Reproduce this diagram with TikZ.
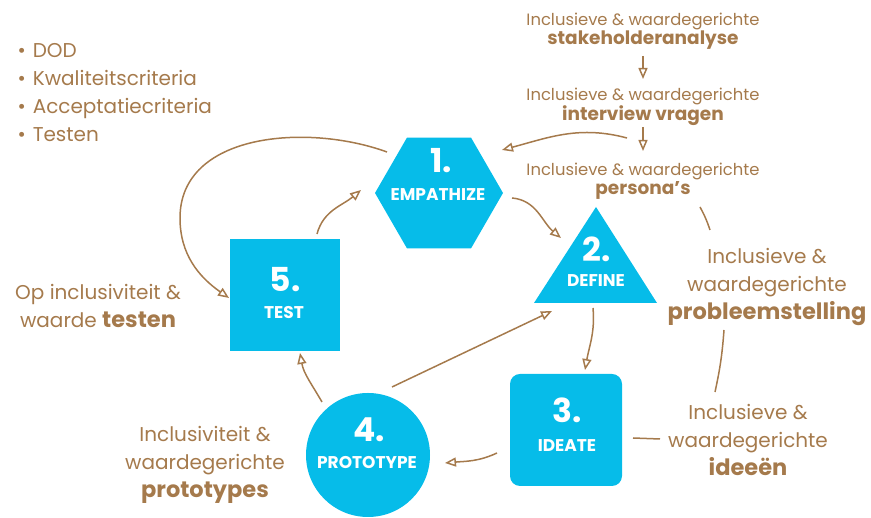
\documentclass[tikz,border=0pt]{standalone}
\usepackage{fontspec}
\setmainfont{Poppins}
\usetikzlibrary{arrows.meta,calc,shapes.geometric}
\definecolor{tileblue}{HTML}{06BCE9}
\definecolor{notebrown}{HTML}{A57A4C}
\newcommand{\keyword}[1]{\textbf{\fontsize{22.5}{28}\selectfont #1}}
\newcommand{\smallkeyword}[1]{\textbf{\fontsize{18.5}{18.5}\selectfont #1}}

\begin{document}
\begin{tikzpicture}[x=1pt,y=1pt,
  tile/.style={fill=tileblue,draw=none,inner sep=0pt},
  num/.style={text=white,anchor=base,font=\bfseries\fontsize{33}{33}\selectfont},
  phase/.style={text=white,anchor=base,font=\bfseries\fontsize{17}{17}\selectfont},
  note/.style={text=notebrown,align=center,font=\fontsize{20}{28}\selectfont},
  smallnote/.style={text=notebrown,align=center,font=\fontsize{16.4}{18.5}\selectfont},
  flow/.style={draw=notebrown,line width=1.5pt,-{Triangle[open,length=11pt,width=9pt]}},
  link/.style={draw=notebrown,line width=1.5pt}]
\useasboundingbox (0,0) rectangle (871,518);

% the five phases
\node[tile,regular polygon,regular polygon sides=6,minimum size=128pt] (emp) at (439,325) {};
\coordinate (def) at (596,248);
\fill[tileblue] ($(def)+(0,63)$) -- ($(def)+(-62,-33)$) -- ($(def)+(61,-33)$) -- cycle;
\node[tile,minimum width=110pt,minimum height=112pt] (tst) at (285,223) {};
\node[tile,rounded corners=10pt,minimum size=112pt] (ide) at (566,88) {};
\node[tile,circle,minimum size=124pt] (pro) at (368,63) {};

\node[num] (emp1) at ($(emp)+(2,20)$) {1.};
\node[phase] (emp2) at ($(emp)+(-1,-8)$) {EMPATHIZE};
\node[num] (def1) at ($(def)+(1,8)$) {2.};
\node[phase] (def2) at ($(def)+(0,-17)$) {DEFINE};
\node[num] (tst1) at ($(tst)+(0,3)$) {5.};
\node[phase] (tst2) at ($(tst)+(-1,-24)$) {TEST};
\node[num] (ide1) at ($(ide)+(1,7)$) {3.};
\node[phase] (ide2) at ($(ide)+(1,-22)$) {IDEATE};
\node[num] (pro1) at ($(pro)+(1,13)$) {4.};
\node[phase] (pro2) at ($(pro)+(-1,-14)$) {PROTOTYPE};

% notes
\node[note,align=left,anchor=north west] (crit) at (14,478)
  {\textbullet\hspace{7pt}DOD\\ \textbullet\hspace{7pt}Kwaliteitscriteria\\ \textbullet\hspace{7pt}Acceptatiecriteria\\ \textbullet\hspace{7pt}Testen};
\node[smallnote] (stake) at (643,487) {Inclusieve \& waardegerichte\\ \smallkeyword{stakeholderanalyse}};
\node[smallnote] (intv) at (643,411) {Inclusieve \& waardegerichte\\ \smallkeyword{interview vragen}};
\node[smallnote] (pers) at (643,337) {Inclusieve \& waardegerichte\\ \smallkeyword{persona’s}};
\node[note] (prob) at (767,231) {Inclusieve \&\\ waardegerichte\\ \keyword{probleemstelling}};
\node[note] (idee) at (748,78) {Inclusieve \&\\ waardegerichte\\ \keyword{ideeën}};
\node[note] (prot) at (205,53) {Inclusiviteit \&\\ waardegerichte\\ \keyword{prototypes}};
\node[note] (test) at (98,212) {Op inclusiviteit \&\\ waarde \keyword{testen}};

% the cycle
\draw[flow] ($(tst)+(32,61)$) to[out=75,in=220] ($(emp)+(-78,3)$);
\draw[flow] ($(emp)+(73,-5)$) to[out=-5,in=140] ($(def)+(-35,32)$);
\draw[flow] ($(def)+(-3,-38)$) to[out=-85,in=80] ($(ide)+(19,60)$);
\draw[flow] ($(ide)+(-69,-23)$) to[out=205,in=5] ($(pro)+(77,-8)$);
\draw[flow] ($(pro)+(24,68)$) -- ($(def)+(-44,-41)$);
\draw[flow] ($(pro)+(-46,53)$) to[out=120,in=-80] ($(tst)+(15,-58)$);
\draw[flow] ($(emp)+(-52,41)$) to[out=160,in=90] (180,300) to[out=-90,in=145] ($(tst)+(-56,-3)$);

% side notes
\draw[flow] ($(stake)+(0,-25)$) -- ($(stake)+(0,-48)$);
\draw[flow] ($(pers)+(0,54)$) -- ($(pers)+(0,30)$);
\draw[flow] ($(emp)+(188,55)$) to[out=165,in=15] ($(emp)+(63,43)$);
\draw[link] ($(def)+(104,63)$) to[bend left=5] ($(def)+(114,40)$);
\draw[link] ($(ide)+(158,100)$) to[bend left=4] ($(ide)+(149,38)$);
\draw[link] ($(ide)+(67,-8)$) -- ($(ide)+(94,-9)$);
\end{tikzpicture}
\end{document}
